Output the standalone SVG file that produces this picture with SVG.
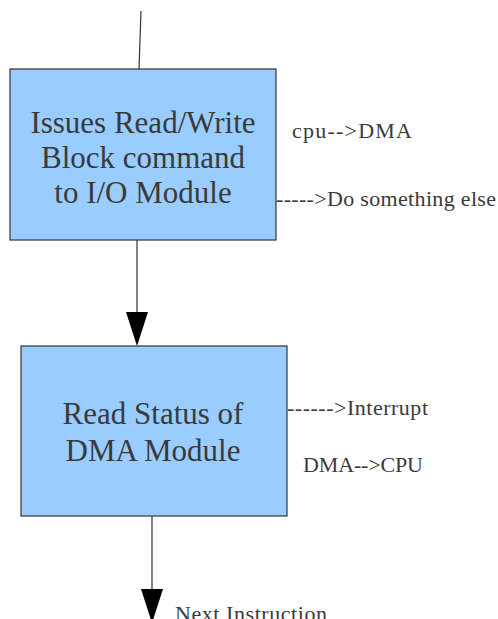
<svg xmlns="http://www.w3.org/2000/svg" width="498" height="619" viewBox="0 0 498 619">
<style>
.box{fill:#99ccff;stroke:#333333;stroke-width:1.2}
.big{font-family:"Liberation Serif",serif;font-size:31px;fill:#3a3a3a;text-anchor:middle}
.lbl{font-family:"Liberation Serif",serif;font-size:22px;fill:#3a3a3a}
.ln{stroke:#333333;stroke-width:1.2;fill:none}
.head{fill:#000000}
</style>
<rect width="498" height="619" fill="#ffffff"/>
<g id="connectors">
<line class="ln" x1="141" y1="11" x2="139" y2="69"/>
<line class="ln" x1="137" y1="240" x2="137" y2="313"/>
<path class="head" d="M126,312 L148,312 L137,346 Z"/>
<line class="ln" x1="152" y1="516" x2="152" y2="590"/>
<path class="head" d="M141,589 L163,589 L152,623 Z"/>
</g>
<g id="node1">
<rect class="box" x="10" y="69" width="266" height="171"/>
<text class="big" x="143" y="133">Issues Read/Write</text>
<text class="big" x="143" y="168">Block command</text>
<text class="big" x="143" y="203">to I/O Module</text>
</g>
<g id="node2">
<rect class="box" x="21" y="346" width="266" height="170"/>
<text class="big" x="153" y="424">Read Status of</text>
<text class="big" x="153" y="461">DMA Module</text>
</g>
<g id="labels">
<text class="lbl" x="292" y="138" textLength="120">cpu--&gt;DMA</text>
<text class="lbl" x="276" y="206" textLength="220">-----&gt;Do something else</text>
<text class="lbl" x="287" y="415" textLength="141">------&gt;Interrupt</text>
<text class="lbl" x="303" y="472" textLength="120">DMA--&gt;CPU</text>
<text class="lbl" x="175" y="621" textLength="152">Next Instruction</text>
</g>
</svg>
